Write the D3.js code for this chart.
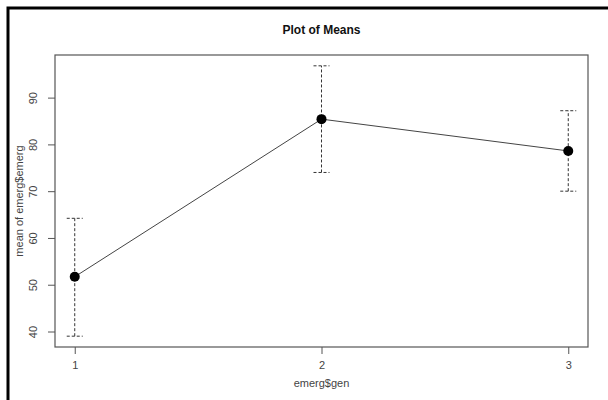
<!DOCTYPE html>
<html>
<head>
<meta charset="utf-8">
<script src="https://cdn.jsdelivr.net/npm/d3@7"></script>
<style>
  body { margin: 0; background: #fff; overflow: hidden; }
  text { font-family: "Liberation Sans", Arial, sans-serif; }
</style>
</head>
<body>
<script>
// group levels of emerg$gen and their means with interval ends
var groups = [1, 2, 3];
var means = [51.7, 85.4, 78.6];
var lower = [39.0, 74.0, 70.0];
var upper = [64.2, 96.8, 87.2];
var yTicks = [40, 50, 60, 70, 80, 90];

var W = 608, H = 400;
var box = { left: 55, top: 55, right: 588, bottom: 347 };

var svg = d3.select('body').append('svg')
  .attr('width', W)
  .attr('height', H)
  .style('display', 'block');

svg.append('rect').attr('width', W).attr('height', H).attr('fill', 'white');

// outer frame of the screenshot (only top and left edges are in view)
svg.append('path')
  .attr('d', 'M8,' + H + 'V8H' + W)
  .attr('fill', 'none')
  .attr('stroke', 'black')
  .attr('stroke-width', 3);

// R-like 4% padding on both axes
var yMin = d3.min(lower), yMax = d3.max(upper);
var yPad = (yMax - yMin) * 0.04;
var y = d3.scaleLinear()
  .domain([yMin - yPad, yMax + yPad])
  .range([box.bottom, box.top]);

var xPad = (d3.max(groups) - d3.min(groups)) * 0.04;
var x = d3.scaleLinear()
  .domain([d3.min(groups) - xPad, d3.max(groups) + xPad])
  .range([box.left, box.right]);

var axisColor = '#555';
var textColor = '#444';

// plot box
svg.append('rect')
  .attr('x', box.left).attr('y', box.top)
  .attr('width', box.right - box.left)
  .attr('height', box.bottom - box.top)
  .attr('fill', 'none')
  .attr('stroke', axisColor)
  .attr('stroke-width', 1.2);

// y axis
var yAxis = svg.append('g')
  .attr('transform', 'translate(' + box.left + ',0)')
  .call(d3.axisLeft(y).tickValues(yTicks).tickSize(7).tickFormat(d3.format('d')));
yAxis.select('.domain').remove();
yAxis.selectAll('line').attr('stroke', axisColor);
yAxis.selectAll('text')
  .attr('x', null).attr('y', null).attr('dy', null)
  .attr('transform', 'translate(-21,0) rotate(-90)')
  .attr('text-anchor', 'middle')
  .attr('dominant-baseline', 'middle')
  .style('font-size', '11px')
  .attr('fill', textColor);

// x axis
var xAxis = svg.append('g')
  .attr('transform', 'translate(0,' + box.bottom + ')')
  .call(d3.axisBottom(x).tickValues(groups).tickSize(7).tickFormat(d3.format('d')));
xAxis.select('.domain').remove();
xAxis.selectAll('line').attr('stroke', axisColor);
xAxis.selectAll('text')
  .attr('y', 19)
  .attr('dy', null)
  .attr('dominant-baseline', 'middle')
  .style('font-size', '11px')
  .attr('fill', textColor);

// titles
svg.append('text')
  .attr('x', (box.left + box.right) / 2).attr('y', 31)
  .attr('text-anchor', 'middle')
  .attr('dominant-baseline', 'middle')
  .style('font-size', '12px')
  .style('font-weight', 'bold')
  .attr('fill', '#111')
  .text('Plot of Means');

svg.append('text')
  .attr('x', (box.left + box.right) / 2).attr('y', 384)
  .attr('text-anchor', 'middle')
  .attr('dominant-baseline', 'middle')
  .style('font-size', '11px')
  .attr('fill', textColor)
  .text('emerg$gen');

svg.append('text')
  .attr('transform', 'translate(20,' + (box.top + box.bottom) / 2 + ') rotate(-90)')
  .attr('text-anchor', 'middle')
  .attr('dominant-baseline', 'middle')
  .style('font-size', '11px')
  .attr('fill', textColor)
  .text('mean of emerg$emerg');

var data = groups.map(function (g, i) {
  return { g: g, m: means[i], lo: lower[i], hi: upper[i] };
});

// dashed error bars
var bars = svg.append('g')
  .attr('stroke', '#333')
  .attr('stroke-width', 1)
  .attr('stroke-dasharray', '3,2')
  .attr('fill', 'none');
bars.selectAll('.v').data(data).enter().append('line')
  .attr('x1', function (d) { return x(d.g); })
  .attr('x2', function (d) { return x(d.g); })
  .attr('y1', function (d) { return y(d.lo); })
  .attr('y2', function (d) { return y(d.hi); });
bars.selectAll('.lo').data(data).enter().append('line')
  .attr('x1', function (d) { return x(d.g) - 8; })
  .attr('x2', function (d) { return x(d.g) + 8; })
  .attr('y1', function (d) { return y(d.lo); })
  .attr('y2', function (d) { return y(d.lo); });
bars.selectAll('.hi').data(data).enter().append('line')
  .attr('x1', function (d) { return x(d.g) - 8; })
  .attr('x2', function (d) { return x(d.g) + 8; })
  .attr('y1', function (d) { return y(d.hi); })
  .attr('y2', function (d) { return y(d.hi); });

// mean line and points
svg.append('path')
  .datum(data)
  .attr('fill', 'none')
  .attr('stroke', '#444')
  .attr('stroke-width', 1)
  .attr('d', d3.line().x(function (d) { return x(d.g); }).y(function (d) { return y(d.m); }));

svg.selectAll('circle.pt').data(data).enter().append('circle')
  .attr('class', 'pt')
  .attr('cx', function (d) { return x(d.g); })
  .attr('cy', function (d) { return y(d.m); })
  .attr('r', 5)
  .attr('fill', 'black');
</script>
</body>
</html>
